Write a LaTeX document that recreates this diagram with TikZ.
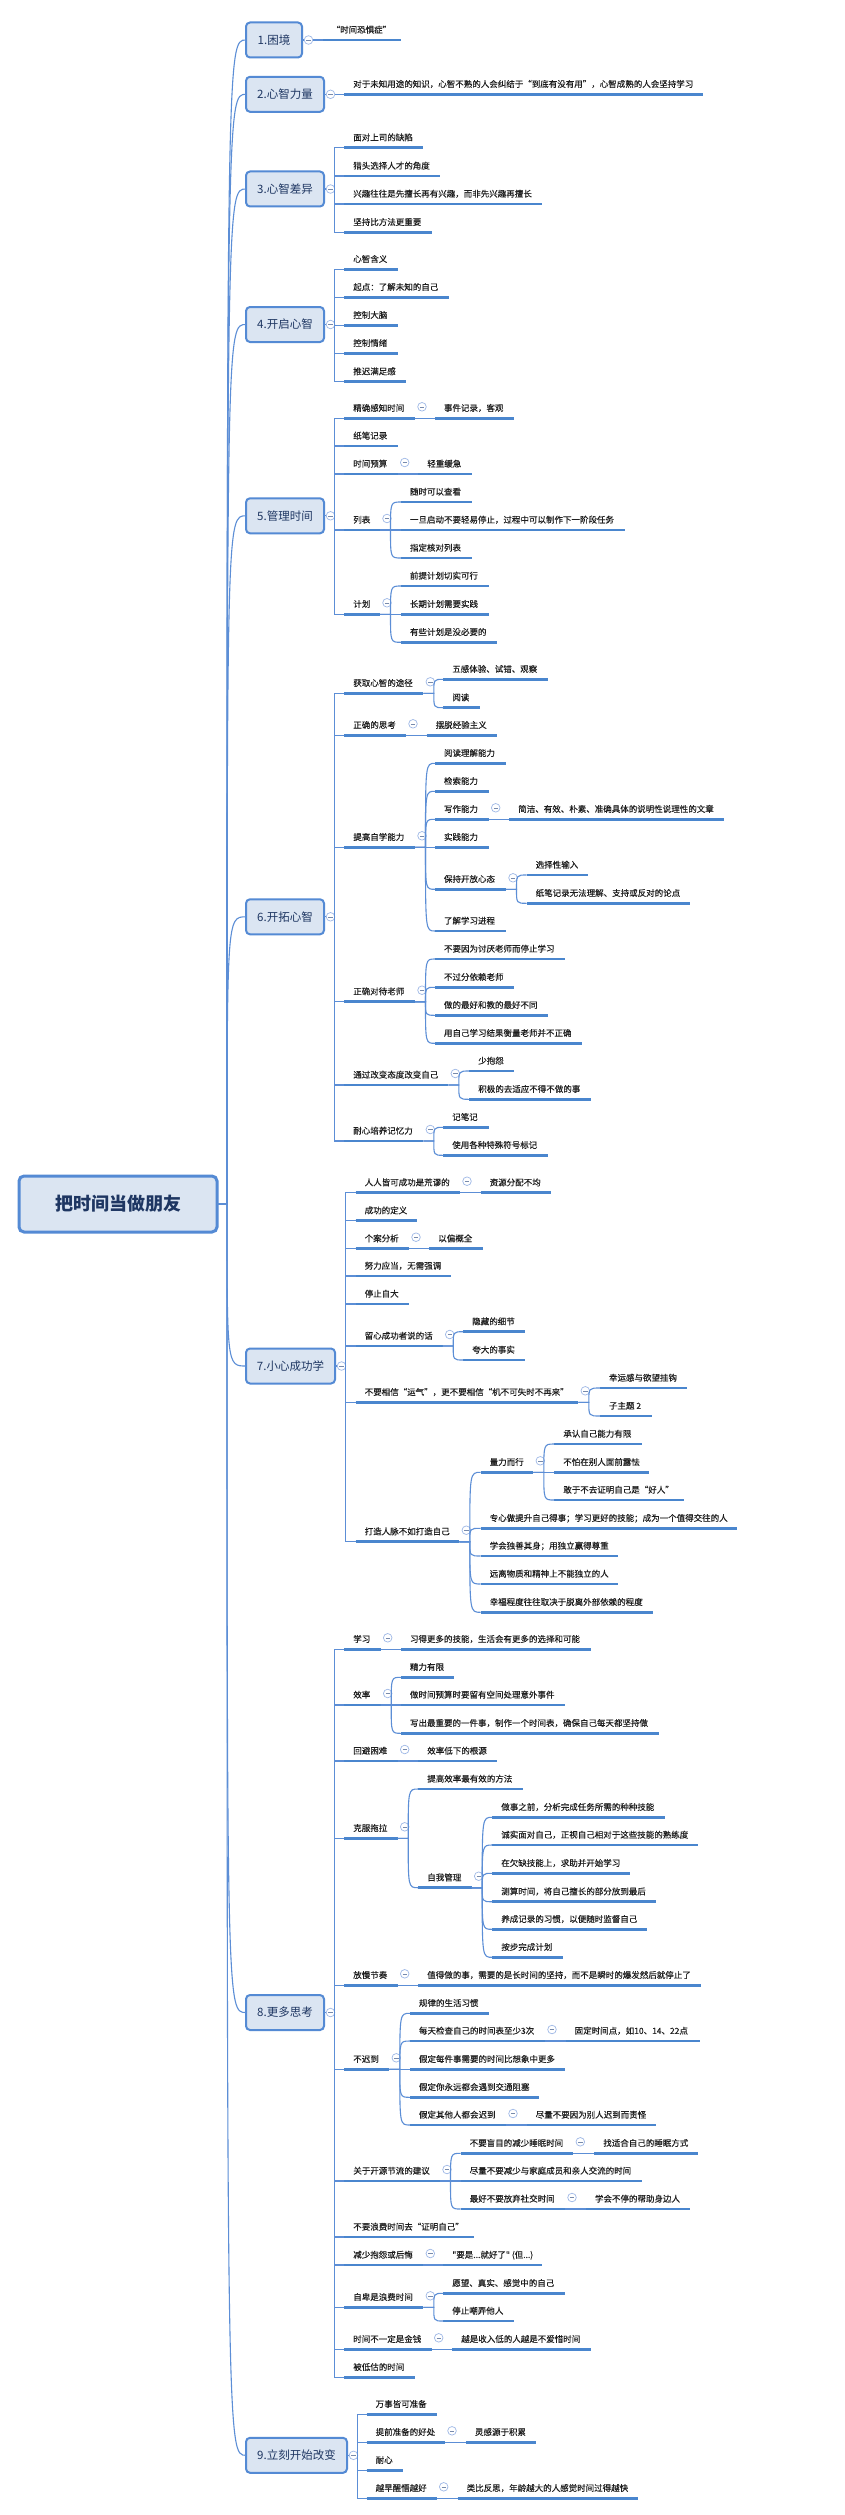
\documentclass[tikz,border=0pt]{standalone}
\usepackage{fontspec}
\setmainfont{Noto Sans CJK SC}
\newfontfamily\leaffamily{Noto Sans CJK SC}[FakeBold=0.2]
\usetikzlibrary{calc}

\definecolor{ulcol}{RGB}{74,134,206}
\definecolor{conncol}{RGB}{92,142,214}
\definecolor{togcol}{RGB}{158,184,230}
\definecolor{mainfill}{RGB}{219,229,242}
\definecolor{mainborder}{RGB}{84,138,212}
\definecolor{maintext}{RGB}{30,54,98}
\definecolor{leaftext}{RGB}{30,30,30}

% full-width quotation marks
\newcommand\oq{\makebox[1em][r]{“}}
\newcommand\cq{\makebox[1em][l]{”}}

\tikzset{
  leaf/.style={anchor=south west, inner xsep=9pt, inner ysep=0pt, outer sep=0pt,
    text height=8pt, text depth=7.1pt, font=\leaffamily\fontsize{8.5pt}{10pt}\selectfont, text=leaftext},
  uline/.style={draw=ulcol, line width=2.6pt},
  conn/.style={draw=conncol, line width=1.1pt},
  tog/.style={circle, draw=togcol, line width=0.7pt, fill=white, minimum size=8.6pt,
    inner sep=0pt, outer sep=0pt,
    path picture={\draw[togcol!75!black, line width=0.6pt]
      ([xshift=-2.2pt]path picture bounding box.center) --
      ([xshift=2.2pt]path picture bounding box.center);}},
  mainbox/.style={anchor=west, rectangle, rounded corners=4pt, draw=mainborder,
    line width=2pt, fill=mainfill, minimum height=35pt, inner sep=0pt, outer sep=0pt,
    text height=9.6pt, text depth=1pt, font=\fontsize{11.5pt}{13pt}\selectfont, text=maintext},
  rootbox/.style={rectangle, rounded corners=5pt, draw=mainborder, line width=3pt,
    fill=mainfill, inner sep=0pt, outer sep=0pt, text height=14.7pt, text depth=1pt,
    font=\fontsize{18pt}{20pt}\selectfont\bfseries, text=maintext}
}

% a topic written over a thick underline: name, x start, x end, y of the line, text
\newcommand\leafnode[5]{%
  \pgfmathsetlengthmacro\leafw{#3-#2-18}%
  \node[leaf] (#1) at (#2,#4) {\makebox[\leafw][l]{#5}};
  \draw[uline] (#1.south west) -- (#1.south east);
}
% collapse mark after a topic
\newcommand\foldmark[1]{\node[tog] (#1t) at ($(#1.south east)+(7,-11.5)$) {};}
% branching point after a topic
\newcommand\hubpt[1]{\coordinate (#1m) at ($(#1.south east)+(10.5,0)$);}
% straight join to a single subtopic
\newcommand\joinp[2]{\draw[conn] (#1.south east) -- (#2.south west);}
% curved join to one of several subtopics
\newcommand\bendto[2]{\draw[conn] (#1.south east) -- (#1m) .. controls (#1m |- #2.south west) .. (#2.south west);}
% elbow from a main topic's collapse mark to a subtopic
\newcommand\trunkto[2]{\draw[conn] (#1.east) |- (#2.south west);}
% root to main topic
\newcommand\rootto[1]{\draw[conn] (root.east) -- (rh) .. controls (rh |- #1.west) and (rh |- #1.west) .. (#1.west);}

\begin{document}
\begin{tikzpicture}[x=1pt,y=-1pt]
\fill[white] (0,0) rectangle (845,2515);
\useasboundingbox (0,0) rectangle (845,2515);

% ---------- root ----------
\node[rootbox, minimum width=198pt, minimum height=56pt] (root) at (118,1204) {把时间当做朋友};
\coordinate (rh) at ($(root.east)+(10,0)$);

% ---------- main topics ----------
\node[mainbox, minimum width=56pt]  (m1) at (246,40)     {1.困境};
\node[mainbox, minimum width=78pt]  (m2) at (246,94.3)   {2.心智力量};
\node[mainbox, minimum width=78pt]  (m3) at (246,189)    {3.心智差异};
\node[mainbox, minimum width=78pt]  (m4) at (246,324.5)  {4.开启心智};
\node[mainbox, minimum width=78pt]  (m5) at (246,515.8)  {5.管理时间};
\node[mainbox, minimum width=78pt]  (m6) at (246,916.8)  {6.开拓心智};
\node[mainbox, minimum width=89pt]  (m7) at (246,1366)   {7.小心成功学};
\node[mainbox, minimum width=78pt]  (m8) at (246,2012.5) {8.更多思考};
\node[mainbox, minimum width=101pt] (m9) at (246,2455.3) {9.立刻开始改变};

\foreach \i in {1,...,9}{
  \node[tog] (t\i) at ($(m\i.east)+(6.5,0)$) {};
  \draw[conn] (m\i.east) -- (t\i.west);
  \rootto{m\i}
}

% ---------- 1 ----------
\leafnode{a1}{322.7}{400.7}{40}{\oq 时间恐惧症\cq}
\draw[conn] (t1.east) -- (a1.south west);

% ---------- 2 ----------
\leafnode{a2}{344.3}{703.3}{94.3}{对于未知用途的知识，心智不熟的人会纠结于\oq 到底有没有用\cq ，心智成熟的人会坚持学习}
\draw[conn] (t2.east) -- (a2.south west);

% ---------- 3 ----------
\leafnode{b1}{344.3}{423.3}{147.7}{面对上司的缺陷}
\leafnode{b2}{344.3}{440}{176}{猎头选择人才的角度}
\leafnode{b3}{344.3}{541.7}{204}{兴趣往往是先擅长再有兴趣，而非先兴趣再擅长}
\leafnode{b4}{344.3}{431.7}{232.3}{坚持比方法更重要}
\foreach \c in {b1,b2,b3,b4}{\trunkto{t3}{\c}}

% ---------- 4 ----------
\leafnode{c1}{344.3}{397.7}{269.3}{心智含义}
\leafnode{c2}{344.3}{448.7}{297.3}{起点：了解未知的自己}
\leafnode{c3}{344.3}{397.7}{325.3}{控制大脑}
\leafnode{c4}{344.3}{397.7}{353.3}{控制情绪}
\leafnode{c5}{344.3}{406}{381.7}{推迟满足感}
\foreach \c in {c1,c2,c3,c4,c5}{\trunkto{t4}{\c}}

% ---------- 5 ----------
\leafnode{d1}{344.3}{415}{418.3}{精确感知时间}
\leafnode{d2}{344.3}{397.7}{446}{纸笔记录}
\leafnode{d3}{344.3}{397.7}{474}{时间预算}
\leafnode{d4}{344.3}{380}{530}{列表}
\leafnode{d5}{344.3}{380}{614.3}{计划}
\foreach \c in {d1,d2,d3,d4,d5}{\trunkto{t5}{\c}}

\leafnode{d1a}{435}{514}{418.3}{事件记录，客观}
\foldmark{d1}\joinp{d1}{d1a}
\leafnode{d3a}{418.3}{471.7}{474}{轻重缓急}
\foldmark{d3}\joinp{d3}{d3a}

\leafnode{d4a}{401}{471.7}{502}{随时可以查看}
\leafnode{d4b}{401}{625}{530}{一旦启动不要轻易停止，过程中可以制作下一阶段任务}
\leafnode{d4c}{401}{471.7}{558}{指定核对列表}
\foldmark{d4}\hubpt{d4}
\foreach \c in {d4a,d4b,d4c}{\bendto{d4}{\c}}

\leafnode{d5a}{401}{488.7}{586}{前提计划切实可行}
\leafnode{d5b}{401}{488.7}{614.3}{长期计划需要实践}
\leafnode{d5c}{401}{497.3}{642.3}{有些计划是没必要的}
\foldmark{d5}\hubpt{d5}
\foreach \c in {d5a,d5b,d5c}{\bendto{d5}{\c}}

% ---------- 6 ----------
\leafnode{e1}{344.3}{423.3}{693.3}{获取心智的途径}
\leafnode{e2}{344.3}{406}{735.3}{正确的思考}
\leafnode{e3}{344.3}{415}{847.3}{提高自学能力}
\leafnode{e4}{344.3}{415}{1001.7}{正确对待老师}
\leafnode{e5}{344.3}{448.3}{1085}{通过改变态度改变自己}
\leafnode{e6}{344.3}{423.3}{1141}{耐心培养记忆力}
\foreach \c in {e1,e2,e3,e4,e5,e6}{\trunkto{t6}{\c}}

\leafnode{e1a}{443.3}{548.3}{679.3}{五感体验、试错、观察}
\leafnode{e1b}{443.3}{480}{707.7}{阅读}
\foldmark{e1}\hubpt{e1}
\foreach \c in {e1a,e1b}{\bendto{e1}{\c}}

\leafnode{e2a}{426.7}{497.3}{735.3}{摆脱经验主义}
\foldmark{e2}\joinp{e2}{e2a}

\leafnode{e3a}{435}{506}{763.3}{阅读理解能力}
\leafnode{e3b}{435}{488.7}{791.3}{检索能力}
\leafnode{e3c}{435}{488.7}{819.3}{写作能力}
\leafnode{e3d}{435}{488.7}{847.3}{实践能力}
\leafnode{e3e}{435}{506}{889.3}{保持开放心态}
\leafnode{e3f}{435}{506}{931}{了解学习进程}
\foldmark{e3}\hubpt{e3}
\foreach \c in {e3a,e3b,e3c,e3d,e3e,e3f}{\bendto{e3}{\c}}

\leafnode{e3c1}{509.3}{724}{819.3}{简洁、有效、朴素、准确具体的说明性说理性的文章}
\foldmark{e3c}\joinp{e3c}{e3c1}

\leafnode{e3e1}{526.7}{588.3}{875}{选择性输入}
\leafnode{e3e2}{526.7}{690}{903.3}{纸笔记录无法理解、支持或反对的论点}
\foldmark{e3e}\hubpt{e3e}
\foreach \c in {e3e1,e3e2}{\bendto{e3e}{\c}}

\leafnode{e4a}{435}{565}{959}{不要因为讨厌老师而停止学习}
\leafnode{e4b}{435}{514}{987.3}{不过分依赖老师}
\leafnode{e4c}{435}{548.3}{1015.3}{做的最好和教的最好不同}
\leafnode{e4d}{435}{582.3}{1043.3}{用自己学习结果衡量老师并不正确}
\foldmark{e4}\hubpt{e4}
\foreach \c in {e4a,e4b,e4c,e4d}{\bendto{e4}{\c}}

\leafnode{e5a}{469.3}{514}{1071}{少抱怨}
\leafnode{e5b}{469.3}{590.7}{1099.3}{积极的去适应不得不做的事}
\foldmark{e5}\hubpt{e5}
\foreach \c in {e5a,e5b}{\bendto{e5}{\c}}

\leafnode{e6a}{443.3}{488.7}{1127.3}{记笔记}
\leafnode{e6b}{443.3}{548.3}{1155.3}{使用各种特殊符号标记}
\foldmark{e6}\hubpt{e6}
\foreach \c in {e6a,e6b}{\bendto{e6}{\c}}

% ---------- 7 ----------
\leafnode{f1}{355.7}{460}{1192.7}{人人皆可成功是荒谬的}
\leafnode{f2}{355.7}{417.3}{1220.7}{成功的定义}
\leafnode{f3}{355.7}{409}{1248.7}{个案分析}
\leafnode{f4}{355.7}{451}{1276}{努力应当，无需强调}
\leafnode{f5}{355.7}{409}{1304}{停止自大}
\leafnode{f6}{355.7}{442.7}{1346}{留心成功者说的话}
\leafnode{f7}{355.7}{578.3}{1402.3}{不要相信\oq 运气\cq ，更不要相信\oq 机不可失时不再来\cq}
\leafnode{f8}{355.7}{459.3}{1541.7}{打造人脉不如打造自己}
\foreach \c in {f1,f2,f3,f4,f5,f6,f7,f8}{\trunkto{t7}{\c}}

\leafnode{f1a}{480.7}{550.7}{1192.7}{资源分配不均}
\foldmark{f1}\joinp{f1}{f1a}
\leafnode{f3a}{429.3}{482.7}{1248.7}{以偏概全}
\foldmark{f3}\joinp{f3}{f3a}

\leafnode{f6a}{463.3}{525}{1331.7}{隐藏的细节}
\leafnode{f6b}{463.3}{525}{1360}{夸大的事实}
\foldmark{f6}\hubpt{f6}
\foreach \c in {f6a,f6b}{\bendto{f6}{\c}}

\leafnode{f7a}{600}{686.7}{1388}{幸运感与欲望挂钩}
\leafnode{f7b}{600}{651.7}{1416}{子主题 2}
\foldmark{f7}\hubpt{f7}
\foreach \c in {f7a,f7b}{\bendto{f7}{\c}}

\leafnode{f8a}{480.7}{533.3}{1472.3}{量力而行}
\leafnode{f8b}{480.7}{737.3}{1528.3}{专心做提升自己得事；学习更好的技能；成为一个值得交往的人}
\leafnode{f8c}{480.7}{618.3}{1556}{学会独善其身；用独立赢得尊重}
\leafnode{f8d}{480.7}{618.3}{1584}{远离物质和精神上不能独立的人}
\leafnode{f8e}{480.7}{652.7}{1612.3}{幸福程度往往取决于脱离外部依赖的程度}
\foldmark{f8}\hubpt{f8}
\foreach \c in {f8a,f8b,f8c,f8d,f8e}{\bendto{f8}{\c}}

\leafnode{f8a1}{554.3}{641.7}{1444}{承认自己能力有限}
\leafnode{f8a2}{554.3}{649.3}{1472.3}{不怕在别人面前露怯}
\leafnode{f8a3}{554.3}{684}{1500}{敢于不去证明自己是\oq 好人\cq}
\foldmark{f8a}\hubpt{f8a}
\foreach \c in {f8a1,f8a2,f8a3}{\bendto{f8a}{\c}}

% ---------- 8 ----------
\leafnode{g1}{344.3}{380.7}{1649.3}{学习}
\leafnode{g2}{344.3}{380.7}{1705}{效率}
\leafnode{g3}{344.3}{397.7}{1761}{回避困难}
\leafnode{g4}{344.3}{397.7}{1838.3}{克服拖拉}
\leafnode{g5}{344.3}{397.7}{1985.3}{放慢节奏}
\leafnode{g6}{344.3}{389.3}{2069.3}{不迟到}
\leafnode{g7}{344.3}{440}{2181}{关于开源节流的建议}
\leafnode{g8}{344.3}{474}{2237}{不要浪费时间去\oq 证明自己\cq}
\leafnode{g9}{344.3}{423.3}{2265}{减少抱怨或后悔}
\leafnode{g10}{344.3}{423.3}{2307.3}{自卑是浪费时间}
\leafnode{g11}{344.3}{431.7}{2349.3}{时间不一定是金钱}
\leafnode{g12}{344.3}{415}{2377.3}{被低估的时间}
\foreach \c in {g1,g2,g3,g4,g5,g6,g7,g8,g9,g10,g11,g12}{\trunkto{t8}{\c}}

\leafnode{g1a}{401}{590.7}{1649.3}{习得更多的技能，生活会有更多的选择和可能}
\foldmark{g1}\joinp{g1}{g1a}

\leafnode{g2a}{401}{454.3}{1677.3}{精力有限}
\leafnode{g2b}{401}{565}{1705}{做时间预算时要留有空间处理意外事件}
\leafnode{g2c}{401}{659}{1733.3}{写出最重要的一件事，制作一个时间表，确保自己每天都坚持做}
\foldmark{g2}\hubpt{g2}
\foreach \c in {g2a,g2b,g2c}{\bendto{g2}{\c}}

\leafnode{g3a}{418.3}{497.3}{1761}{效率低下的根源}
\foldmark{g3}\joinp{g3}{g3a}

\leafnode{g4a}{418.3}{522.7}{1789}{提高效率最有效的方法}
\leafnode{g4b}{418.3}{471.7}{1887.7}{自我管理}
\foldmark{g4}\hubpt{g4}
\foreach \c in {g4a,g4b}{\bendto{g4}{\c}}

\leafnode{g4b1}{492.3}{665}{1817.3}{做事之前，分析完成任务所需的种种技能}
\leafnode{g4b2}{492.3}{698.3}{1845}{诚实面对自己，正视自己相对于这些技能的熟练度}
\leafnode{g4b3}{492.3}{630}{1873.3}{在欠缺技能上，求助并开始学习}
\leafnode{g4b4}{492.3}{656}{1901.7}{测算时间，将自己擅长的部分放到最后}
\leafnode{g4b5}{492.3}{647.3}{1929.3}{养成记录的习惯，以便随时监督自己}
\leafnode{g4b6}{492.3}{562.7}{1957.3}{按步完成计划}
\foldmark{g4b}\hubpt{g4b}
\foreach \c in {g4b1,g4b2,g4b3,g4b4,g4b5,g4b6}{\bendto{g4b}{\c}}

\leafnode{g5a}{418.3}{700.7}{1985.3}{值得做的事，需要的是长时间的坚持，而不是瞬时的爆发然后就停止了}
\foldmark{g5}\joinp{g5}{g5a}

\leafnode{g6a}{410}{488.7}{2013.3}{规律的生活习惯}
\leafnode{g6b}{410}{545}{2041}{每天检查自己的时间表至少3次}
\leafnode{g6c}{410}{565}{2069.3}{假定每件事需要的时间比想象中更多}
\leafnode{g6d}{410}{539.3}{2097.3}{假定你永远都会遇到交通阻塞}
\leafnode{g6e}{410}{506}{2125}{假定其他人都会迟到}
\foldmark{g6}\hubpt{g6}
\foreach \c in {g6a,g6b,g6c,g6d,g6e}{\bendto{g6}{\c}}

\leafnode{g6b1}{565.7}{700}{2041}{固定时间点，如10、14、22点}
\foldmark{g6b}\joinp{g6b}{g6b1}
\leafnode{g6e1}{526.7}{656}{2125}{尽量不要因为别人迟到而责怪}
\foldmark{g6e}\joinp{g6e}{g6e1}

\leafnode{g7a}{460.7}{573.3}{2153.3}{不要盲目的减少睡眠时间}
\leafnode{g7b}{460.7}{641.7}{2181}{尽量不要减少与家庭成员和亲人交流的时间}
\leafnode{g7c}{460.7}{565}{2209}{最好不要放弃社交时间}
\foldmark{g7}\hubpt{g7}
\foreach \c in {g7a,g7b,g7c}{\bendto{g7}{\c}}

\leafnode{g7a1}{594.3}{698.3}{2153.3}{找适合自己的睡眠方式}
\foldmark{g7a}\joinp{g7a}{g7a1}
\leafnode{g7c1}{586}{690}{2209}{学会不停的帮助身边人}
\foldmark{g7c}\joinp{g7c}{g7c1}

\leafnode{g9a}{443.3}{542.3}{2265}{"要是...就好了" (但...)}
\foldmark{g9}\joinp{g9}{g9a}

\leafnode{g10a}{443.3}{565}{2293.3}{愿望、真实、感觉中的自己}
\leafnode{g10b}{443.3}{514}{2321}{停止嘲弄他人}
\foldmark{g10}\hubpt{g10}
\foreach \c in {g10a,g10b}{\bendto{g10}{\c}}

\leafnode{g11a}{452.3}{590.7}{2349.3}{越是收入低的人越是不爱惜时间}
\foldmark{g11}\joinp{g11}{g11a}

% ---------- 9 ----------
\leafnode{h1}{366.7}{436.7}{2414.3}{万事皆可准备}
\leafnode{h2}{366.7}{445}{2442.3}{提前准备的好处}
\leafnode{h3}{366.7}{402.7}{2470.3}{耐心}
\leafnode{h4}{366.7}{436.7}{2498.3}{越早醒悟越好}
\foreach \c in {h1,h2,h3,h4}{\trunkto{t9}{\c}}

\leafnode{h2a}{466}{536}{2442.3}{灵感源于积累}
\foldmark{h2}\joinp{h2}{h2a}
\leafnode{h4a}{457.7}{638.3}{2498.3}{类比反思，年龄越大的人感觉时间过得越快}
\foldmark{h4}\joinp{h4}{h4a}

\end{tikzpicture}
\end{document}
